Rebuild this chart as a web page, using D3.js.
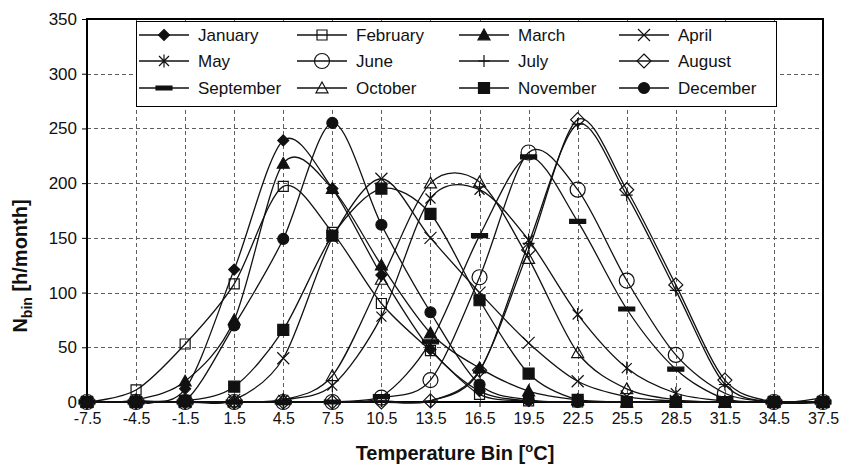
<!DOCTYPE html>
<html>
<head>
<meta charset="utf-8">
<script src="https://cdn.jsdelivr.net/npm/d3@7"></script>
<style>
  body { margin: 0; background: #fff; }
  svg { font-family: "Liberation Sans", Arial, sans-serif; }
</style>
</head>
<body>
<svg id="chart" width="843" height="470"></svg>
<script>
// temperature bins [°C]
const bins = [-7.5, -4.5, -1.5, 1.5, 4.5, 7.5, 10.5, 13.5, 16.5, 19.5, 22.5, 25.5, 28.5, 31.5, 34.5, 37.5];

const january   = [0, 1, 12, 121, 239, 195, 116, 48, 10, 1, 0, 0, 0, 0, 0, 0];
const february  = [0, 11, 53, 108, 197, 155, 90, 47, 7, 1, 0, 0, 0, 0, 0, 0];
const march     = [0, 2, 19, 75, 218, 195, 125, 63, 31, 10, 2, 0, 0, 0, 0, 0];
const april     = [0, 0, 0, 2, 40, 150, 204, 150, 100, 54, 19, 5, 1, 0, 0, 0];
const may       = [0, 0, 0, 0, 2, 15, 78, 186, 194, 148, 80, 31, 8, 1, 0, 0];
const june      = [0, 0, 0, 0, 0, 0, 4, 20, 114, 228, 194, 111, 43, 8, 0, 0];
const july      = [0, 0, 0, 0, 0, 0, 1, 1, 28, 145, 254, 189, 102, 16, 0, 4];
const august    = [0, 0, 0, 0, 0, 0, 0, 1, 29, 139, 258, 194, 107, 20, 0, 0];
const september = [0, 0, 0, 0, 0, 0, 5, 55, 152, 224, 165, 85, 30, 3, 0, 0];
const october   = [0, 0, 0, 0, 2, 24, 112, 200, 201, 131, 45, 12, 2, 0, 0, 0];
const november  = [0, 0, 1, 14, 66, 152, 195, 172, 93, 26, 2, 0, 0, 0, 0, 0];
const december  = [0, 0, 1, 70, 149, 255, 162, 82, 16, 2, 0, 0, 0, 0, 0, 0];

const monthNames = ["January", "February", "March", "April", "May", "June",
  "July", "August", "September", "October", "November", "December"];
const markerTypes = ["diamondFill", "squareOpen", "triangleFill", "x", "asterisk", "circleOpen",
  "plus", "diamondOpen", "bar", "triangleOpen", "squareFill", "circleFill"];
const yTicks = [0, 50, 100, 150, 200, 250, 300, 350];

const series = [january, february, march, april, may, june,
  july, august, september, october, november, december].map((v, i) => ({
    name: monthNames[i],
    marker: markerTypes[i],
    values: v.map((y, j) => ({ x: bins[j], y: y }))
  }));

const geo = { left: 87, right: 823, top: 19, bottom: 402 };

const svg = d3.select("#chart");

const x = d3.scaleLinear().domain([-7.5, 37.5]).range([geo.left, geo.right]);
const y = d3.scaleLinear().domain([0, 350]).range([geo.bottom, geo.top]);

// grid
const grid = svg.append("g")
  .attr("stroke", "#5f5f5f")
  .attr("stroke-width", 1)
  .attr("stroke-dasharray", "4,3");

grid.selectAll(".vgrid")
  .data(bins.slice(1, -1)).enter()
  .append("line")
  .attr("x1", d => Math.round(x(d)) + 0.5)
  .attr("x2", d => Math.round(x(d)) + 0.5)
  .attr("y1", geo.top)
  .attr("y2", geo.bottom);

grid.selectAll(".hgrid")
  .data(yTicks.slice(1, -1)).enter()
  .append("line")
  .attr("x1", geo.left)
  .attr("x2", geo.right)
  .attr("y1", d => Math.round(y(d)) + 0.5)
  .attr("y2", d => Math.round(y(d)) + 0.5);

// axes
const xAxis = svg.append("g")
  .attr("transform", `translate(0,${geo.bottom})`)
  .call(d3.axisBottom(x).tickValues(bins).tickSize(5).tickSizeOuter(0)
    .tickFormat(d => d.toFixed(1)));
const yAxis = svg.append("g")
  .attr("transform", `translate(${geo.left},0)`)
  .call(d3.axisLeft(y).tickValues(yTicks).tickSize(5).tickSizeOuter(0));

[xAxis, yAxis].forEach(a => {
  a.select(".domain").remove();
  a.selectAll(".tick line").attr("stroke", "#000");
  a.selectAll(".tick text")
    .attr("fill", "#111")
    .attr("font-size", 16)
    .attr("font-family", "'Liberation Sans', Arial, sans-serif");
});
xAxis.selectAll(".tick text").attr("dy", "0.9em").attr("y", 8);
yAxis.selectAll(".tick text").attr("x", -10).attr("font-size", 17);

// frame
svg.append("rect")
  .attr("x", geo.left)
  .attr("y", geo.top)
  .attr("width", geo.right - geo.left)
  .attr("height", geo.bottom - geo.top)
  .attr("fill", "none")
  .attr("stroke", "#000")
  .attr("stroke-width", 2);

// marker shapes
function markerPath(type) {
  const p = d3.path();
  let r;
  switch (type) {
    case "diamondFill": r = 5.5; p.moveTo(0, -r); p.lineTo(r, 0); p.lineTo(0, r); p.lineTo(-r, 0); p.closePath(); break;
    case "diamondOpen": r = 7; p.moveTo(0, -r); p.lineTo(r, 0); p.lineTo(0, r); p.lineTo(-r, 0); p.closePath(); break;
    case "squareOpen": r = 5; p.rect(-r, -r, 2 * r, 2 * r); break;
    case "squareFill": r = 5.5; p.rect(-r, -r, 2 * r, 2 * r); break;
    case "triangleFill":
    case "triangleOpen": r = 6; p.moveTo(0, -r); p.lineTo(r, r * 0.8); p.lineTo(-r, r * 0.8); p.closePath(); break;
    case "x": r = 6; p.moveTo(-r, -r); p.lineTo(r, r); p.moveTo(-r, r); p.lineTo(r, -r); break;
    case "asterisk": r = 5; p.moveTo(-r, -r); p.lineTo(r, r); p.moveTo(-r, r); p.lineTo(r, -r); p.moveTo(0, -r * 1.3); p.lineTo(0, r * 1.3); break;
    case "plus": r = 6; p.moveTo(-r, 0); p.lineTo(r, 0); p.moveTo(0, -r); p.lineTo(0, r); break;
    case "circleOpen": r = 7.5; p.arc(0, 0, r, 0, 2 * Math.PI); break;
    case "circleFill": r = 5.5; p.arc(0, 0, r, 0, 2 * Math.PI); break;
    case "bar": p.rect(-8, -2, 16, 4); break;
  }
  return p.toString();
}

function markerFill(type) {
  return (type.endsWith("Fill") || type === "bar") ? "#111" : "none";
}

// lines
const line = d3.line()
  .x(d => x(d.x))
  .y(d => y(d.y))
  .curve(d3.curveCardinal.tension(0.1));

const plot = svg.append("g");
plot.append("clipPath").attr("id", "clip")
  .append("rect")
  .attr("x", geo.left).attr("y", geo.top - 2)
  .attr("width", geo.right - geo.left).attr("height", geo.bottom - geo.top + 4);

const seriesG = plot.selectAll(".series")
  .data(series).enter()
  .append("g")
  .attr("class", "series");

seriesG.append("path")
  .attr("d", d => line(d.values))
  .attr("clip-path", "url(#clip)")
  .attr("fill", "none")
  .attr("stroke", "#111")
  .attr("stroke-width", 1.3);

seriesG.each(function (s) {
  d3.select(this).selectAll(".mk")
    .data(s.values).enter()
    .append("path")
    .attr("class", "mk")
    .attr("transform", d => `translate(${x(d.x)},${y(d.y)})`)
    .attr("d", markerPath(s.marker))
    .attr("fill", markerFill(s.marker))
    .attr("stroke", "#111")
    .attr("stroke-width", 1.2);
});

// legend
const legend = svg.append("g");
legend.append("rect")
  .attr("x", 136.5).attr("y", 21.5)
  .attr("width", 640).attr("height", 85)
  .attr("fill", "#fff")
  .attr("stroke", "#000")
  .attr("stroke-width", 1);

const colX = [164, 322, 484, 644];
const rowY = [35, 61, 88];

const item = legend.selectAll(".item")
  .data(series).enter()
  .append("g")
  .attr("transform", (d, i) => `translate(${colX[i % 4]},${rowY[Math.floor(i / 4)]})`);

item.append("line")
  .attr("x1", -25).attr("x2", 25)
  .attr("stroke", "#111").attr("stroke-width", 1.3);
item.append("path")
  .attr("d", d => markerPath(d.marker))
  .attr("fill", d => markerFill(d.marker))
  .attr("stroke", "#111")
  .attr("stroke-width", 1.2);
item.append("text")
  .attr("x", 34)
  .attr("dy", "0.35em")
  .attr("font-size", 17)
  .attr("fill", "#111")
  .text(d => d.name);

// axis titles
svg.append("text")
  .attr("x", (geo.left + geo.right) / 2 + 0)
  .attr("y", 460)
  .attr("text-anchor", "middle")
  .attr("font-size", 20)
  .attr("font-weight", "bold")
  .attr("fill", "#111")
  .call(t => {
    t.append("tspan").text("Temperature Bin [");
    t.append("tspan").attr("dy", -8).attr("font-size", 13).text("o");
    t.append("tspan").attr("dy", 8).text("C]");
  });

svg.append("text")
  .attr("transform", "translate(27,266) rotate(-90)")
  .attr("text-anchor", "middle")
  .attr("font-size", 20)
  .attr("font-weight", "bold")
  .attr("fill", "#111")
  .call(t => {
    t.append("tspan").text("N");
    t.append("tspan").attr("dy", 5).attr("font-size", 14).text("bin");
    t.append("tspan").attr("dy", -5).text(" [h/month]");
  });
</script>
</body>
</html>
